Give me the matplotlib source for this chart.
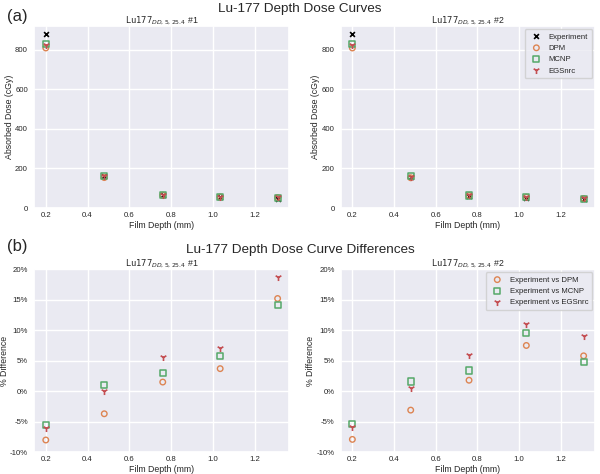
import matplotlib
matplotlib.use('Agg')
import matplotlib.pyplot as plt
import matplotlib.ticker as mtick
import seaborn as sns

sns.set_theme(style='darkgrid')
plt.rcParams['font.family'] = ['Liberation Sans', 'DejaVu Sans']
plt.rcParams['axes.unicode_minus'] = False

# film depths (mm)
depth = [0.2, 0.48, 0.76, 1.035, 1.31]

# absorbed dose (cGy), film #1
exp1 = [877, 160, 64, 54, 46]
dpm1 = [808, 154, 65, 56, 53]
mcnp1 = [830, 162, 66, 57, 52]
egs1 = [825, 160, 68, 58, 55]

# absorbed dose (cGy), film #2
exp2 = [877, 158, 62, 51, 45]
dpm2 = [808, 153, 63, 55, 48]
mcnp2 = [830, 160, 64, 56, 47]
egs2 = [825, 159, 66, 57, 49]

# % differences, film #1
diff_dpm1 = [-8.0, -3.7, 1.5, 3.7, 15.2]
diff_mcnp1 = [-5.5, 1.0, 3.0, 5.8, 14.1]
diff_egs1 = [-6.0, 0.0, 5.6, 7.1, 18.8]

# % differences, film #2
diff_dpm2 = [-7.9, -3.1, 1.8, 7.5, 5.8]
diff_mcnp2 = [-5.4, 1.6, 3.4, 9.6, 4.8]
diff_egs2 = [-5.9, 0.6, 5.9, 11.0, 9.1]

c_dpm, c_mcnp, c_egs = '#dd8452', '#55a868', '#c44e52'
TICK, LAB = 5.6, 6.3

fig = plt.figure(figsize=(6.0, 4.74), dpi=100)
ax1 = fig.add_axes([0.057, 0.561, 0.425, 0.384])
ax2 = fig.add_axes([0.568, 0.561, 0.424, 0.384])
ax3 = fig.add_axes([0.057, 0.046, 0.425, 0.386])
ax4 = fig.add_axes([0.568, 0.046, 0.424, 0.386])

def style_axes(ax, num, ylabel):
    ax.set_title(r'$\mathtt{Lu177}_{DD,5,25.4}$ #' + str(num), fontsize=LAB, pad=2)
    ax.set_xlabel('Film Depth (mm)', fontsize=LAB, labelpad=1)
    ax.set_ylabel(ylabel, fontsize=LAB, labelpad=1)
    ax.set_xticks([0.2, 0.4, 0.6, 0.8, 1.0, 1.2])
    ax.tick_params(axis='x', labelsize=TICK, length=0, pad=3)
    ax.tick_params(axis='y', labelsize=TICK, length=0, pad=4.5)

def dose_panel(ax, exp, dpm, mcnp, egs, num):
    ax.scatter(depth, exp, marker='x', color='black', s=12, linewidths=1.2, label='Experiment')
    ax.scatter(depth, dpm, marker='o', facecolors='none', edgecolors=c_dpm, s=16, linewidths=1, label='DPM')
    ax.scatter(depth, mcnp, marker='s', facecolors='none', edgecolors=c_mcnp, s=20, linewidths=1.1, label='MCNP')
    ax.scatter(depth, egs, marker='1', color=c_egs, s=26, linewidths=1.2, label='EGSnrc')
    style_axes(ax, num, 'Absorbed Dose (cGy)')
    ax.set_yticks([0, 200, 400, 600, 800])

def diff_panel(ax, dpm, mcnp, egs, num):
    ax.scatter(depth, dpm, marker='o', facecolors='none', edgecolors=c_dpm, s=16, linewidths=1, label='Experiment vs DPM')
    ax.scatter(depth, mcnp, marker='s', facecolors='none', edgecolors=c_mcnp, s=20, linewidths=1.1, label='Experiment vs MCNP')
    ax.scatter(depth, egs, marker='1', color=c_egs, s=26, linewidths=1.2, label='Experiment vs EGSnrc')
    style_axes(ax, num, '% Difference')
    ax.set_ylim(-10, 20)
    ax.yaxis.set_major_formatter(mtick.PercentFormatter(decimals=0))

dose_panel(ax1, exp1, dpm1, mcnp1, egs1, 1)
dose_panel(ax2, exp2, dpm2, mcnp2, egs2, 2)
ax1.set_ylim(bottom=0)
ax2.legend(loc='upper right', fontsize=TICK, handletextpad=0.6, borderpad=0.5,
           labelspacing=0.5, borderaxespad=0.4)

diff_panel(ax3, diff_dpm1, diff_mcnp1, diff_egs1, 1)
diff_panel(ax4, diff_dpm2, diff_mcnp2, diff_egs2, 2)
ax4.legend(loc='upper right', fontsize=TICK, handletextpad=0.6, borderpad=0.5,
           labelspacing=0.5, borderaxespad=0.4)

fig.text(0.5, 0.982, 'Lu-177 Depth Dose Curves', ha='center', va='center', fontsize=9.7)
fig.text(0.5, 0.473, 'Lu-177 Depth Dose Curve Differences', ha='center', va='center', fontsize=9.7)
fig.text(0.012, 0.965, '(a)', ha='left', va='center', fontsize=12)
fig.text(0.012, 0.481, '(b)', ha='left', va='center', fontsize=12)

fig.savefig('out.png', dpi=100)
